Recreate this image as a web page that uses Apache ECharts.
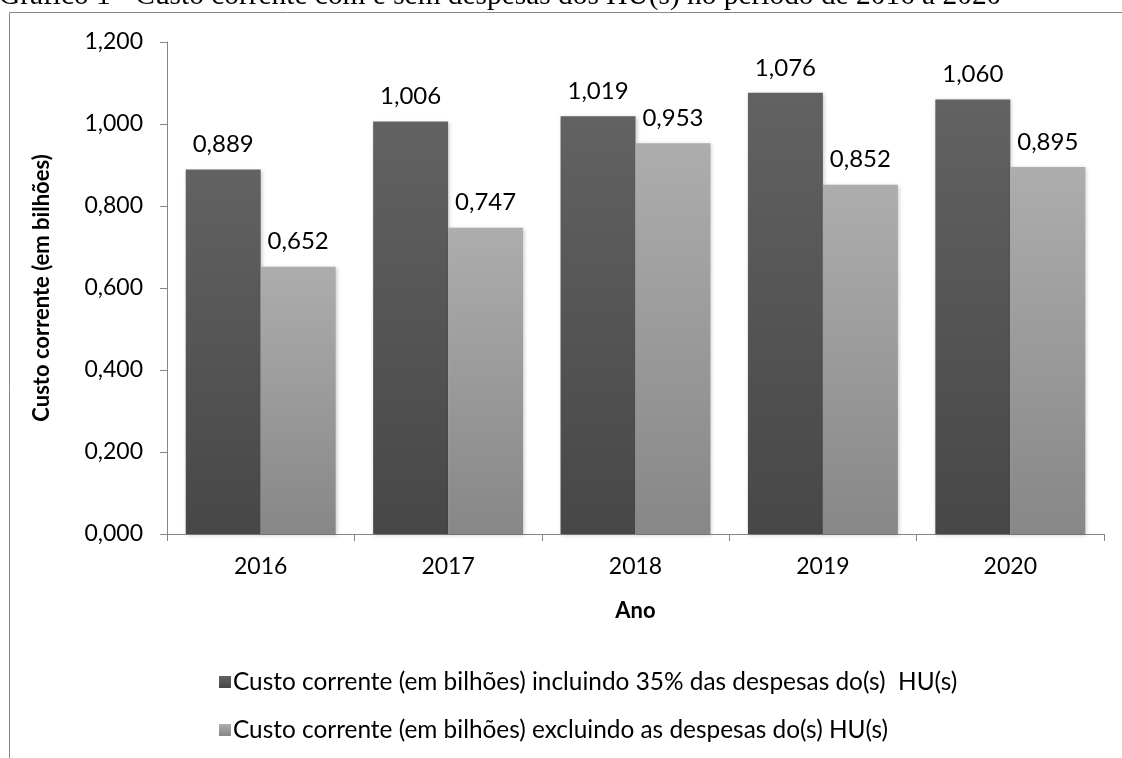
<!DOCTYPE html>
<html>
<head>
<meta charset="utf-8">
<script src="https://cdn.jsdelivr.net/npm/echarts@6/dist/echarts.min.js"></script>
<style>
html,body{margin:0;padding:0;background:#fff;}
#chart{width:1122px;height:758px;}
</style>
</head>
<body>
<div id="chart"></div>
<script>
const categories = ['2016', '2017', '2018', '2019', '2020'];
const incluindo = [0.889, 1.006, 1.019, 1.076, 1.060];
const excluindo = [0.652, 0.747, 0.953, 0.852, 0.895];
const seriesNames = [
  'Custo corrente (em bilhões) incluindo 35% das despesas do(s)  HU(s)',
  'Custo corrente (em bilhões) excluindo as despesas do(s) HU(s)'
];
const titleText = 'Gráfico 1 - Custo corrente com e sem despesas dos HU(s) no período de 2016 a 2020';
const yAxisName = 'Custo corrente (em bilhões)';
const xAxisName = 'Ano';

const fmt = v => v.toFixed(3).replace('.', ',');
const FONT = 'Lato, "Open Sans", sans-serif';

const chart = echarts.init(document.getElementById('chart'));
const grad = (a, b) => new echarts.graphic.LinearGradient(0, 0, 0, 1, [
  {offset: 0, color: a}, {offset: 1, color: b}
]);
const commonBar = {
  type: 'bar',
  barGap: '0%',
  barCategoryGap: '20%',
  label: {
    show: true, position: 'top', distance: 13,
    fontFamily: FONT, fontSize: 24, color: '#000',
    formatter: p => fmt(p.value)
  }
};
chart.setOption({
  animation: false,
  backgroundColor: '#fff',
  graphic: [
    {type: 'line', shape: {x1: 9.5, y1: 12.5, x2: 1122, y2: 12.5}, style: {stroke: '#888', lineWidth: 1}},
    {type: 'line', shape: {x1: 9.5, y1: 12.5, x2: 9.5, y2: 758}, style: {stroke: '#888', lineWidth: 1}},
    {type: 'text', x: -1, y: -4, style: {text: titleText, font: '29.4px "Liberation Serif", "Times New Roman", serif', fill: '#000', verticalAlign: 'middle'}}
  ],
  grid: {left: 167, right: 18, top: 42, bottom: 224},
  legend: {
    orient: 'vertical', left: 214, top: 665, itemGap: 24,
    itemWidth: 12, itemHeight: 12, icon: 'rect',
    textStyle: {fontFamily: FONT, fontSize: 24.4, color: '#000', padding: [0, 0, 0, -3]},
    data: seriesNames
  },
  xAxis: {
    type: 'category', data: categories,
    name: xAxisName, nameLocation: 'middle', nameGap: 66,
    nameTextStyle: {fontFamily: FONT, fontSize: 22, fontWeight: 'bold', color: '#000'},
    axisLine: {lineStyle: {color: '#868686', width: 1}},
    axisTick: {show: true, length: 7, lineStyle: {color: '#868686'}},
    axisLabel: {fontFamily: FONT, fontSize: 23, color: '#000', margin: 21}
  },
  yAxis: {
    type: 'value', min: 0, max: 1.2, interval: 0.2,
    name: yAxisName, nameLocation: 'middle', nameGap: 114,
    nameTextStyle: {fontFamily: FONT, fontSize: 22, fontWeight: 'bold', color: '#000'},
    axisLine: {show: true, lineStyle: {color: '#868686', width: 1}},
    axisTick: {show: true, length: 7, lineStyle: {color: '#868686'}},
    splitLine: {show: false},
    axisLabel: {fontFamily: FONT, fontSize: 23, color: '#000', margin: 24, formatter: v => fmt(v)}
  },
  series: [
    Object.assign({}, commonBar, {
      name: seriesNames[0], data: incluindo,
      itemStyle: {color: grad('#626262', '#474747'), shadowBlur: 4, shadowColor: 'rgba(0,0,0,0.22)', shadowOffsetX: 1, shadowOffsetY: 1}
    }),
    Object.assign({}, commonBar, {
      name: seriesNames[1], data: excluindo,
      itemStyle: {color: grad('#adadad', '#878787'), shadowBlur: 4, shadowColor: 'rgba(0,0,0,0.22)', shadowOffsetX: 1, shadowOffsetY: 1}
    })
  ]
});
</script>
</body>
</html>
